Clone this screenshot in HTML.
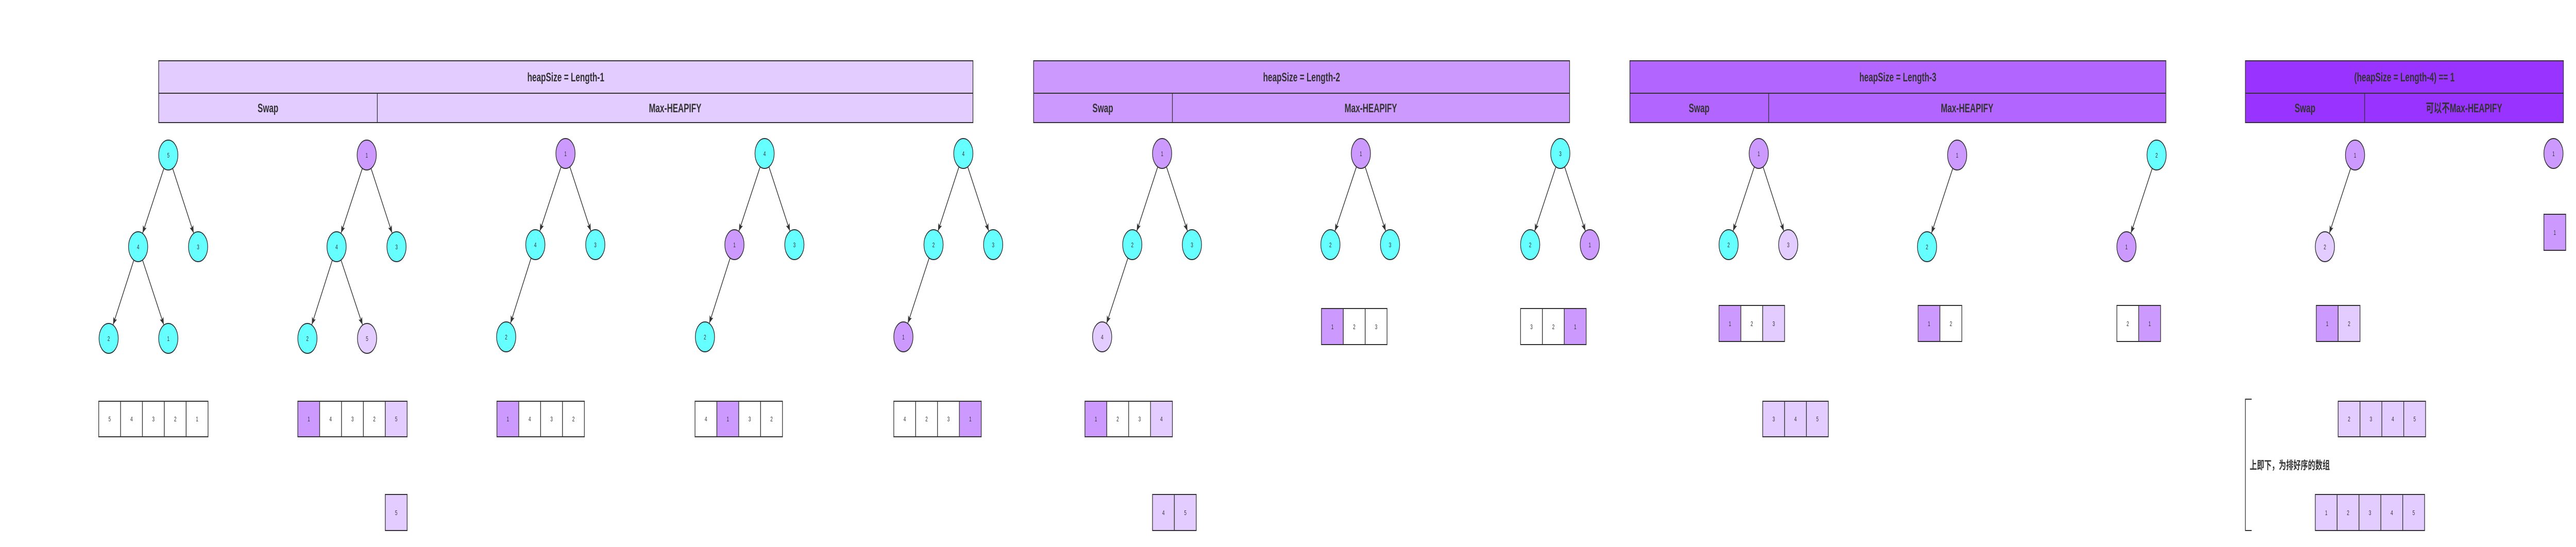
<!DOCTYPE html>
<html><head><meta charset="utf-8"><style>
html,body{margin:0;padding:0;background:#fff;width:100%;height:100%;overflow:hidden}
svg{display:block;width:100vw;height:100vh}
.h{font-family:"Liberation Sans","Noto Sans CJK SC",sans-serif;font-weight:bold;font-size:24px;fill:#333}
.n{font-family:"Liberation Sans",sans-serif;font-size:13px;fill:#333}
</style></head><body>
<svg viewBox="0 0 7776 1062" preserveAspectRatio="none" xmlns="http://www.w3.org/2000/svg">
<defs>
<marker id="a" markerUnits="userSpaceOnUse" markerWidth="60" markerHeight="30" refX="0" refY="0" orient="auto" overflow="visible" viewBox="-60 -15 60 30">
<path d="M-30,0 L-44,-6 L-41,0 L-44,6 z" fill="#333"/>
</marker>
</defs>
<g stroke="#333" stroke-width="2">
<rect x="479" y="118" width="2458" height="120" fill="#e3ccff"/>
<line x1="479" y1="181" x2="2937" y2="181"/><line x1="1139" y1="181" x2="1139" y2="238"/>
<rect x="3120" y="118" width="1618" height="120" fill="#cc99ff"/>
<line x1="3120" y1="181" x2="4738" y2="181"/><line x1="3539" y1="181" x2="3539" y2="238"/>
<rect x="4920" y="118" width="1618" height="120" fill="#b266ff"/>
<line x1="4920" y1="181" x2="6538" y2="181"/><line x1="5339" y1="181" x2="5339" y2="238"/>
<rect x="6778" y="118" width="960" height="120" fill="#9933ff"/>
<line x1="6778" y1="181" x2="7738" y2="181"/><line x1="7138" y1="181" x2="7138" y2="238"/>
</g>
<g text-anchor="middle" class="h">
<text x="1708" y="158">heapSize = Length-1</text>
<text x="809" y="218">Swap</text><text x="2038" y="218">Max-HEAPIFY</text>
<text x="3929" y="158">heapSize = Length-2</text>
<text x="3329" y="218">Swap</text><text x="4138" y="218">Max-HEAPIFY</text>
<text x="5729" y="158">heapSize = Length-3</text>
<text x="5129" y="218">Swap</text><text x="5938" y="218">Max-HEAPIFY</text>
<text x="7258" y="158">(heapSize = Length-4) == 1</text>
<text x="6958" y="218">Swap</text><text x="7438" y="218">可以不Max-HEAPIFY</text>
</g>
<g stroke="#333" stroke-width="2" marker-end="url(#a)">
<line x1="508" y1="301" x2="417" y2="479"/><line x1="508" y1="301" x2="598" y2="479"/>
<line x1="417" y1="479" x2="328" y2="657"/><line x1="417" y1="479" x2="508" y2="657"/>
<line x1="1107" y1="301" x2="1016" y2="479"/><line x1="1107" y1="301" x2="1197" y2="479"/>
<line x1="1016" y1="479" x2="928" y2="657"/><line x1="1016" y1="479" x2="1108" y2="657"/>
<line x1="1707" y1="298" x2="1616" y2="475"/><line x1="1707" y1="298" x2="1797" y2="475"/>
<line x1="1616" y1="475" x2="1528" y2="654"/>
<line x1="2308" y1="298" x2="2217" y2="475"/><line x1="2308" y1="298" x2="2398" y2="475"/>
<line x1="2217" y1="475" x2="2128" y2="654"/>
<line x1="2908" y1="298" x2="2818" y2="475"/><line x1="2908" y1="298" x2="2998" y2="475"/>
<line x1="2818" y1="475" x2="2727" y2="654"/>
<line x1="3508" y1="298" x2="3418" y2="475"/><line x1="3508" y1="298" x2="3598" y2="475"/>
<line x1="3418" y1="475" x2="3327" y2="654"/>
<line x1="4108" y1="298" x2="4016" y2="475"/><line x1="4108" y1="298" x2="4196" y2="475"/>
<line x1="4710" y1="298" x2="4619" y2="475"/><line x1="4710" y1="298" x2="4799" y2="475"/>
<line x1="5309" y1="298" x2="5218" y2="475"/><line x1="5309" y1="298" x2="5398" y2="475"/>
<line x1="5908" y1="301" x2="5817" y2="479"/>
<line x1="6510" y1="301" x2="6419" y2="479"/>
<line x1="7109" y1="301" x2="7018" y2="479"/>
</g>
<g stroke="#333" stroke-width="2">
<circle cx="508" cy="301" r="29" fill="#66ffff"/><circle cx="417" cy="479" r="29" fill="#66ffff"/><circle cx="598" cy="479" r="29" fill="#66ffff"/><circle cx="328" cy="657" r="29" fill="#66ffff"/><circle cx="508" cy="657" r="29" fill="#66ffff"/>
<circle cx="1107" cy="301" r="29" fill="#cc99ff"/><circle cx="1016" cy="479" r="29" fill="#66ffff"/><circle cx="1197" cy="479" r="29" fill="#66ffff"/><circle cx="928" cy="657" r="29" fill="#66ffff"/><circle cx="1108" cy="657" r="29" fill="#e3ccff"/>
<circle cx="1707" cy="298" r="29" fill="#cc99ff"/><circle cx="1616" cy="475" r="29" fill="#66ffff"/><circle cx="1797" cy="475" r="29" fill="#66ffff"/><circle cx="1528" cy="654" r="29" fill="#66ffff"/>
<circle cx="2308" cy="298" r="29" fill="#66ffff"/><circle cx="2217" cy="475" r="29" fill="#cc99ff"/><circle cx="2398" cy="475" r="29" fill="#66ffff"/><circle cx="2128" cy="654" r="29" fill="#66ffff"/>
<circle cx="2908" cy="298" r="29" fill="#66ffff"/><circle cx="2818" cy="475" r="29" fill="#66ffff"/><circle cx="2998" cy="475" r="29" fill="#66ffff"/><circle cx="2727" cy="654" r="29" fill="#cc99ff"/>
<circle cx="3508" cy="298" r="29" fill="#cc99ff"/><circle cx="3418" cy="475" r="29" fill="#66ffff"/><circle cx="3598" cy="475" r="29" fill="#66ffff"/><circle cx="3327" cy="654" r="29" fill="#e3ccff"/>
<circle cx="4108" cy="298" r="29" fill="#cc99ff"/><circle cx="4016" cy="475" r="29" fill="#66ffff"/><circle cx="4196" cy="475" r="29" fill="#66ffff"/>
<circle cx="4710" cy="298" r="29" fill="#66ffff"/><circle cx="4619" cy="475" r="29" fill="#66ffff"/><circle cx="4799" cy="475" r="29" fill="#cc99ff"/>
<circle cx="5309" cy="298" r="29" fill="#cc99ff"/><circle cx="5218" cy="475" r="29" fill="#66ffff"/><circle cx="5398" cy="475" r="29" fill="#e3ccff"/>
<circle cx="5908" cy="301" r="29" fill="#cc99ff"/><circle cx="5817" cy="479" r="29" fill="#66ffff"/>
<circle cx="6510" cy="301" r="29" fill="#66ffff"/><circle cx="6419" cy="479" r="29" fill="#cc99ff"/>
<circle cx="7109" cy="301" r="29" fill="#cc99ff"/><circle cx="7018" cy="479" r="29" fill="#e3ccff"/>
<circle cx="7708" cy="298" r="29" fill="#cc99ff"/>
</g>
<g class="n" text-anchor="middle">
<text x="508" y="306">5</text><text x="417" y="484">4</text><text x="598" y="484">3</text><text x="328" y="662">2</text><text x="508" y="662">1</text>
<text x="1107" y="306">1</text><text x="1016" y="484">4</text><text x="1197" y="484">3</text><text x="928" y="662">2</text><text x="1108" y="662">5</text>
<text x="1707" y="303">1</text><text x="1616" y="480">4</text><text x="1797" y="480">3</text><text x="1528" y="659">2</text>
<text x="2308" y="303">4</text><text x="2217" y="480">1</text><text x="2398" y="480">3</text><text x="2128" y="659">2</text>
<text x="2908" y="303">4</text><text x="2818" y="480">2</text><text x="2998" y="480">3</text><text x="2727" y="659">1</text>
<text x="3508" y="303">1</text><text x="3418" y="480">2</text><text x="3598" y="480">3</text><text x="3327" y="659">4</text>
<text x="4108" y="303">1</text><text x="4016" y="480">2</text><text x="4196" y="480">3</text>
<text x="4710" y="303">3</text><text x="4619" y="480">2</text><text x="4799" y="480">1</text>
<text x="5309" y="303">1</text><text x="5218" y="480">2</text><text x="5398" y="480">3</text>
<text x="5908" y="306">1</text><text x="5817" y="484">2</text>
<text x="6510" y="306">2</text><text x="6419" y="484">1</text>
<text x="7109" y="306">1</text><text x="7018" y="484">2</text>
<text x="7708" y="303">1</text>
</g>
<g stroke="#333" stroke-width="2">
<rect x="298" y="779" width="66" height="69" fill="#fff"/><rect x="364" y="779" width="66" height="69" fill="#fff"/><rect x="430" y="779" width="66" height="69" fill="#fff"/><rect x="496" y="779" width="66" height="69" fill="#fff"/><rect x="562" y="779" width="66" height="69" fill="#fff"/>
<rect x="899" y="779" width="66" height="69" fill="#cc99ff"/><rect x="965" y="779" width="66" height="69" fill="#fff"/><rect x="1031" y="779" width="66" height="69" fill="#fff"/><rect x="1097" y="779" width="66" height="69" fill="#fff"/><rect x="1163" y="779" width="66" height="69" fill="#e3ccff"/>
<rect x="1163" y="960" width="66" height="70" fill="#e3ccff"/>
<rect x="1500" y="779" width="66" height="69" fill="#cc99ff"/><rect x="1566" y="779" width="66" height="69" fill="#fff"/><rect x="1632" y="779" width="66" height="69" fill="#fff"/><rect x="1698" y="779" width="66" height="69" fill="#fff"/>
<rect x="2098" y="779" width="66" height="69" fill="#fff"/><rect x="2164" y="779" width="66" height="69" fill="#cc99ff"/><rect x="2230" y="779" width="66" height="69" fill="#fff"/><rect x="2296" y="779" width="66" height="69" fill="#fff"/>
<rect x="2698" y="779" width="66" height="69" fill="#fff"/><rect x="2764" y="779" width="66" height="69" fill="#fff"/><rect x="2830" y="779" width="66" height="69" fill="#fff"/><rect x="2896" y="779" width="66" height="69" fill="#cc99ff"/>
<rect x="3275" y="779" width="66" height="69" fill="#cc99ff"/><rect x="3341" y="779" width="66" height="69" fill="#fff"/><rect x="3407" y="779" width="66" height="69" fill="#fff"/><rect x="3473" y="779" width="66" height="69" fill="#e3ccff"/>
<rect x="3479" y="960" width="66" height="70" fill="#e3ccff"/><rect x="3545" y="960" width="66" height="70" fill="#e3ccff"/>
<rect x="3989" y="599" width="66" height="70" fill="#cc99ff"/><rect x="4055" y="599" width="66" height="70" fill="#fff"/><rect x="4121" y="599" width="66" height="70" fill="#fff"/>
<rect x="4590" y="599" width="66" height="70" fill="#fff"/><rect x="4656" y="599" width="66" height="70" fill="#fff"/><rect x="4722" y="599" width="66" height="70" fill="#cc99ff"/>
<rect x="5189" y="593" width="66" height="70" fill="#cc99ff"/><rect x="5255" y="593" width="66" height="70" fill="#fff"/><rect x="5321" y="593" width="66" height="70" fill="#e3ccff"/>
<rect x="5321" y="779" width="66" height="69" fill="#e3ccff"/><rect x="5387" y="779" width="66" height="69" fill="#e3ccff"/><rect x="5453" y="779" width="66" height="69" fill="#e3ccff"/>
<rect x="5790" y="593" width="66" height="70" fill="#cc99ff"/><rect x="5856" y="593" width="66" height="70" fill="#fff"/>
<rect x="6390" y="593" width="66" height="70" fill="#fff"/><rect x="6456" y="593" width="66" height="70" fill="#cc99ff"/>
<rect x="6992" y="593" width="66" height="70" fill="#cc99ff"/><rect x="7058" y="593" width="66" height="70" fill="#e3ccff"/>
<rect x="7679" y="416" width="66" height="70" fill="#cc99ff"/>
<rect x="7058" y="779" width="66" height="69" fill="#e3ccff"/><rect x="7124" y="779" width="66" height="69" fill="#e3ccff"/><rect x="7190" y="779" width="66" height="69" fill="#e3ccff"/><rect x="7256" y="779" width="66" height="69" fill="#e3ccff"/>
<rect x="6989" y="960" width="66" height="70" fill="#e3ccff"/><rect x="7055" y="960" width="66" height="70" fill="#e3ccff"/><rect x="7121" y="960" width="66" height="70" fill="#e3ccff"/><rect x="7187" y="960" width="66" height="70" fill="#e3ccff"/><rect x="7253" y="960" width="66" height="70" fill="#e3ccff"/>
<polyline points="6797,775 6778,775 6778,1030 6797,1030" fill="none"/>
</g>
<g class="n" text-anchor="middle">
<text x="331" y="818">5</text><text x="397" y="818">4</text><text x="463" y="818">3</text><text x="529" y="818">2</text><text x="595" y="818">1</text>
<text x="932" y="818">1</text><text x="998" y="818">4</text><text x="1064" y="818">3</text><text x="1130" y="818">2</text><text x="1196" y="818">5</text>
<text x="1196" y="1000">5</text>
<text x="1533" y="818">1</text><text x="1599" y="818">4</text><text x="1665" y="818">3</text><text x="1731" y="818">2</text>
<text x="2131" y="818">4</text><text x="2197" y="818">1</text><text x="2263" y="818">3</text><text x="2329" y="818">2</text>
<text x="2731" y="818">4</text><text x="2797" y="818">2</text><text x="2863" y="818">3</text><text x="2929" y="818">1</text>
<text x="3308" y="818">1</text><text x="3374" y="818">2</text><text x="3440" y="818">3</text><text x="3506" y="818">4</text>
<text x="3512" y="1000">4</text><text x="3578" y="1000">5</text>
<text x="4022" y="639">1</text><text x="4088" y="639">2</text><text x="4154" y="639">3</text>
<text x="4623" y="639">3</text><text x="4689" y="639">2</text><text x="4755" y="639">1</text>
<text x="5222" y="633">1</text><text x="5288" y="633">2</text><text x="5354" y="633">3</text>
<text x="5354" y="818">3</text><text x="5420" y="818">4</text><text x="5486" y="818">5</text>
<text x="5823" y="633">1</text><text x="5889" y="633">2</text>
<text x="6423" y="633">2</text><text x="6489" y="633">1</text>
<text x="7025" y="633">1</text><text x="7091" y="633">2</text>
<text x="7712" y="456">1</text>
<text x="7091" y="818">2</text><text x="7157" y="818">3</text><text x="7223" y="818">4</text><text x="7289" y="818">5</text>
<text x="7022" y="1000">1</text><text x="7088" y="1000">2</text><text x="7154" y="1000">3</text><text x="7220" y="1000">4</text><text x="7286" y="1000">5</text>
</g>
<text x="6791" y="911" class="h" style="font-size:22px">上即下，为排好序的数组</text>
</svg>
</body></html>
